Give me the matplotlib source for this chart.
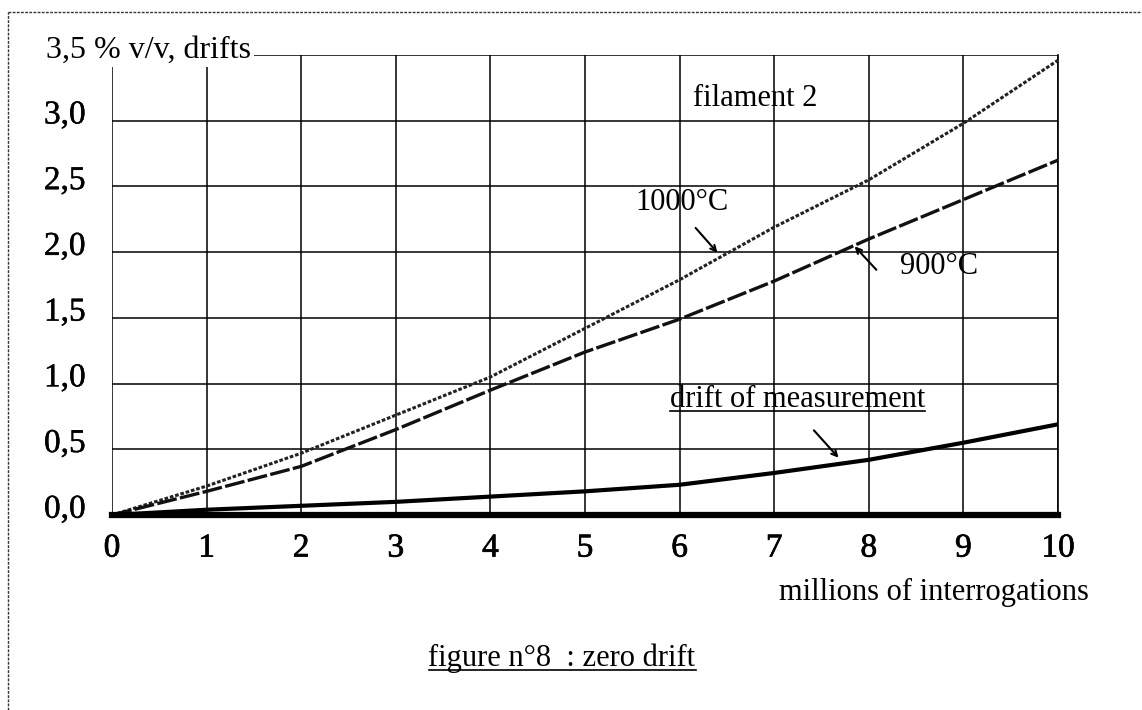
import matplotlib
matplotlib.use("Agg")
import matplotlib.pyplot as plt
from matplotlib.lines import Line2D
from matplotlib.transforms import ScaledTranslation
import matplotlib.patheffects as pe

# values (millions of interrogations -> % v/v)
x_pts = [0, 1, 2, 3, 4, 5, 6, 7, 8, 9, 10]
drift_1000 = [0.0, 0.22, 0.47, 0.76, 1.05, 1.42, 1.79, 2.19, 2.55, 2.98, 3.46]
drift_900 = [0.0, 0.18, 0.37, 0.65, 0.95, 1.24, 1.49, 1.78, 2.10, 2.40, 2.70]
drift_meas = [0.0, 0.04, 0.07, 0.10, 0.14, 0.18, 0.23, 0.32, 0.42, 0.55, 0.69]
zero_line = [0.0] * len(x_pts)

x_ticks = [0, 1, 2, 3, 4, 5, 6, 7, 8, 9, 10]
y_ticks = [0.0, 0.5, 1.0, 1.5, 2.0, 2.5, 3.0, 3.5]
y_ticklabels = ['0,0', '0,5', '1,0', '1,5', '2,0', '2,5', '3,0', '']

plt.rcParams['font.family'] = ['Liberation Serif', 'DejaVu Serif']

W, H = 1142, 710
fig = plt.figure(figsize=(W / 100, H / 100), dpi=100)
ax = fig.add_axes([112 / W, 1 - 515 / H, (1058 - 112) / W, (515 - 55) / H])

ax.set_xlim(0, 10)
ax.set_ylim(0, 3.5)
ax.set_xticks(x_ticks)
ax.set_yticks(y_ticks)
ax.set_yticklabels(y_ticklabels)
ax.tick_params(length=0, labelsize=24, colors='black')
ax.tick_params(axis='x', pad=13)
ax.tick_params(axis='y', pad=19)
for lb in ax.get_xticklabels():
  lb.set_path_effects([pe.withStroke(linewidth=0.5, foreground='black')])
# y labels sit a little above their grid lines in the original
up = ScaledTranslation(0, 9 / 100, fig.dpi_scale_trans)
for lb in ax.get_yticklabels():
  lb.set_transform(lb.get_transform() + up)
  lb.set_path_effects([pe.withStroke(linewidth=0.3, foreground='black')])
ax.grid(True, color='black', linewidth=1.1)
ax.set_axisbelow(True)
for side in ['top', 'left']:
  ax.spines[side].set_visible(False)
ax.spines['right'].set_linewidth(1.2)
ax.spines['bottom'].set_linewidth(2.5)

ax.plot(x_pts, drift_1000, color='#222222', linewidth=2.2, linestyle=(0, (1.2, 0.6)), zorder=3)
ax.plot(x_pts, drift_900, color='#111111', linewidth=2.4, linestyle=(0, (6, 1)), zorder=3)
ax.plot(x_pts, drift_meas, color='black', linewidth=3, zorder=3)
ax.plot(x_pts, zero_line, color='black', linewidth=4.5, zorder=3, clip_on=False)

# labels and arrows
ax.text(6.8, 3.17, 'filament 2', fontsize=22, ha='center', va='center')
ax.text(6.03, 2.38, '1000°C', fontsize=22, ha='center', va='center')
ax.annotate('', xy=(6.42, 1.98), xytext=(6.15, 2.2),
            arrowprops=dict(arrowstyle='->', color='black', lw=1.5))
ax.text(8.74, 1.89, '900°C', fontsize=22, ha='center', va='center')
ax.annotate('', xy=(7.83, 2.06), xytext=(8.1, 1.85),
            arrowprops=dict(arrowstyle='->', color='black', lw=1.5))
t_meas = ax.text(7.25, 0.88, 'drift of measurement', fontsize=22, ha='center', va='center')
ax.annotate('', xy=(7.7, 0.42), xytext=(7.4, 0.66),
            arrowprops=dict(arrowstyle='->', color='black', lw=1.5))

fig.text(46 / W, 1 - 50 / H, '3,5 % v/v, drifts', fontsize=23, ha='left', va='center',
         bbox=dict(facecolor='white', edgecolor='none', pad=2), zorder=10)
fig.text(1089 / W, 1 - 592 / H, 'millions of interrogations', fontsize=22, ha='right', va='center')
t_cap = fig.text(562 / W, 1 - 658 / H, 'figure n°8  : zero drift', fontsize=22, ha='center', va='center')

# underline the two underlined texts
fig.canvas.draw()
r = fig.canvas.get_renderer()
for t in [t_meas, t_cap]:
  bb = t.get_window_extent(r)
  yy = bb.y0 + 3
  fig.add_artist(Line2D([bb.x0 / W, bb.x1 / W], [yy / H, yy / H], color='black', lw=1.2))

# dotted page frame
fig.add_artist(Line2D([8 / W, 1], [1 - 12 / H, 1 - 12 / H], color='#333333', lw=1, linestyle=(0, (2, 1))))
fig.add_artist(Line2D([8 / W, 8 / W], [0, 1 - 12 / H], color='#333333', lw=1, linestyle=(0, (2, 1))))

fig.savefig('out.png', dpi=100)
